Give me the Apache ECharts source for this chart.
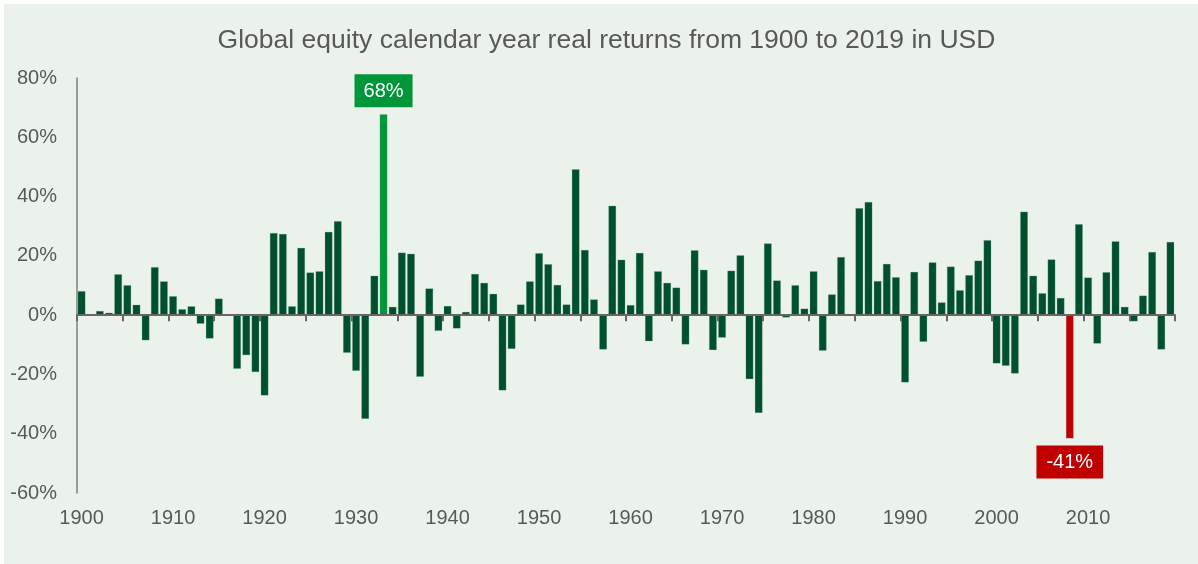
<!DOCTYPE html>
<html>
<head>
<meta charset="utf-8">
<script src="https://cdn.jsdelivr.net/npm/echarts@6/dist/echarts.min.js"></script>
<style>
  html, body { margin: 0; padding: 0; background: #ffffff; width: 1198px; height: 564px; overflow: hidden; }
  #chart { position: absolute; left: 4px; top: 4px; width: 1194px; height: 560px; }
</style>
</head>
<body>
<div id="chart"></div>
<script>
const years = [];
for (let y = 1900; y <= 2019; y++) years.push(String(y));

const returns = [
  // 1900-1909
  8.1, 0.2, 1.4, 0.8, 13.8, 10.1, 3.5, -8.5, 16.2, 11.4,
  // 1910-1919
  6.4, 2.0, 3.0, -2.9, -7.9, 5.6, 0.2, -18.1, -13.5, -19.2,
  // 1920-1929
  -27.1, 27.7, 27.4, 3.0, 22.7, 14.4, 14.8, 28.1, 31.7, -12.7,
  // 1930-1939
  -18.8, -35.0, 13.3, 67.8, 2.8, 21.1, 20.7, -20.8, 9.0, -5.3,
  // 1940-1949
  3.1, -4.5, 1.1, 13.9, 10.9, 7.2, -25.4, -11.4, 3.6, 11.4,
  // 1950-1959
  20.9, 17.2, 10.2, 3.6, 49.2, 22.0, 5.3, -11.6, 36.9, 18.7,
  // 1960-1969
  3.4, 21.0, -8.8, 14.8, 10.9, 9.3, -9.9, 21.9, 15.3, -11.8,
  // 1970-1979
  -7.6, 15.0, 20.2, -21.6, -33.0, 24.2, 11.7, -0.8, 10.1, 2.2,
  // 1980-1989
  14.8, -12.0, 7.0, 19.6, 0.2, 36.1, 38.2, 11.5, 17.3, 12.8,
  // 1990-1999
  -22.7, 14.6, -9.0, 17.8, 4.3, 16.4, 8.4, 13.5, 18.4, 25.3,
  // 2000-2009
  -16.3, -17.1, -19.7, 34.9, 13.3, 7.4, 18.8, 5.8, -41.6, 30.7,
  // 2010-2019
  12.7, -9.6, 14.5, 24.9, 2.8, -2.1, 6.6, 21.3, -11.6, 24.7
];

const yTicks = [-60, -40, -20, 0, 20, 40, 60, 80];
const bestYear = '1933';
const bestLabel = '68%';
const worstYear = '2008';
const worstLabel = '-41%';
const titleText = 'Global equity calendar year real returns from 1900 to 2019 in USD';

const COLOR_BAR = '#00502F';
const COLOR_BEST = '#00963A';
const COLOR_WORST = '#C00000';
const TEXT = '#595959';
const FONT = 'Liberation Sans, Arial, sans-serif';

const barData = returns.map((v, i) => {
  const yr = years[i];
  if (yr === bestYear) {
    return {
      value: v,
      itemStyle: { color: COLOR_BEST },
      label: {
        show: true, position: 'top', distance: 7,
        formatter: bestLabel, color: '#ffffff', fontSize: 20, fontFamily: FONT,
        backgroundColor: COLOR_BEST, padding: [7, 9, 6, 9]
      }
    };
  }
  if (yr === worstYear) {
    return {
      value: v,
      itemStyle: { color: COLOR_WORST },
      label: {
        show: true, position: 'bottom', distance: 7,
        formatter: worstLabel, color: '#ffffff', fontSize: 20, fontFamily: FONT,
        backgroundColor: COLOR_WORST, padding: [7, 10, 6, 10]
      }
    };
  }
  return v;
});

const chart = echarts.init(document.getElementById('chart'), null, { renderer: 'canvas' });
chart.setOption({
  backgroundColor: '#EBF2EC',
  animation: false,
  graphic: [{
    type: 'text',
    x: 602.5,
    y: 37,
    silent: true,
    style: {
      text: titleText,
      fill: TEXT,
      fontSize: 26.5,
      fontFamily: FONT,
      align: 'center',
      verticalAlign: 'middle'
    }
  }],
  grid: { left: 73, right: 23, top: 74, bottom: 71, containLabel: false },
  xAxis: [
    {
      type: 'category',
      data: years,
      boundaryGap: true,
      z: 3,
      axisLine: { show: true, onZero: true, lineStyle: { color: '#666666', width: 2 } },
      axisTick: { show: true, interval: 4, length: 6, inside: false, lineStyle: { color: '#666666', width: 2 } },
      axisLabel: { show: false },
      splitLine: { show: false }
    },
    {
      type: 'category',
      data: years,
      position: 'bottom',
      boundaryGap: true,
      axisLine: { show: false, onZero: false },
      axisTick: { show: false },
      axisLabel: {
        show: true, interval: 9, margin: 15,
        color: TEXT, fontSize: 20, fontFamily: FONT
      },
      splitLine: { show: false }
    }
  ],
  yAxis: {
    type: 'value',
    min: yTicks[0],
    max: yTicks[yTicks.length - 1],
    interval: 20,
    axisLine: { show: true, lineStyle: { color: '#7F7F7F', width: 1.5 } },
    axisTick: { show: false },
    splitLine: { show: false },
    axisLabel: {
      margin: 20, color: TEXT, fontSize: 20, fontFamily: FONT,
      formatter: '{value}%'
    }
  },
  series: [{
    type: 'bar',
    xAxisIndex: 0,
    data: barData,
    barCategoryGap: '16%',
    itemStyle: { color: COLOR_BAR, borderColor: 'rgba(120,170,140,0.5)', borderWidth: 0.5 }
  }]
});
</script>
</body>
</html>
